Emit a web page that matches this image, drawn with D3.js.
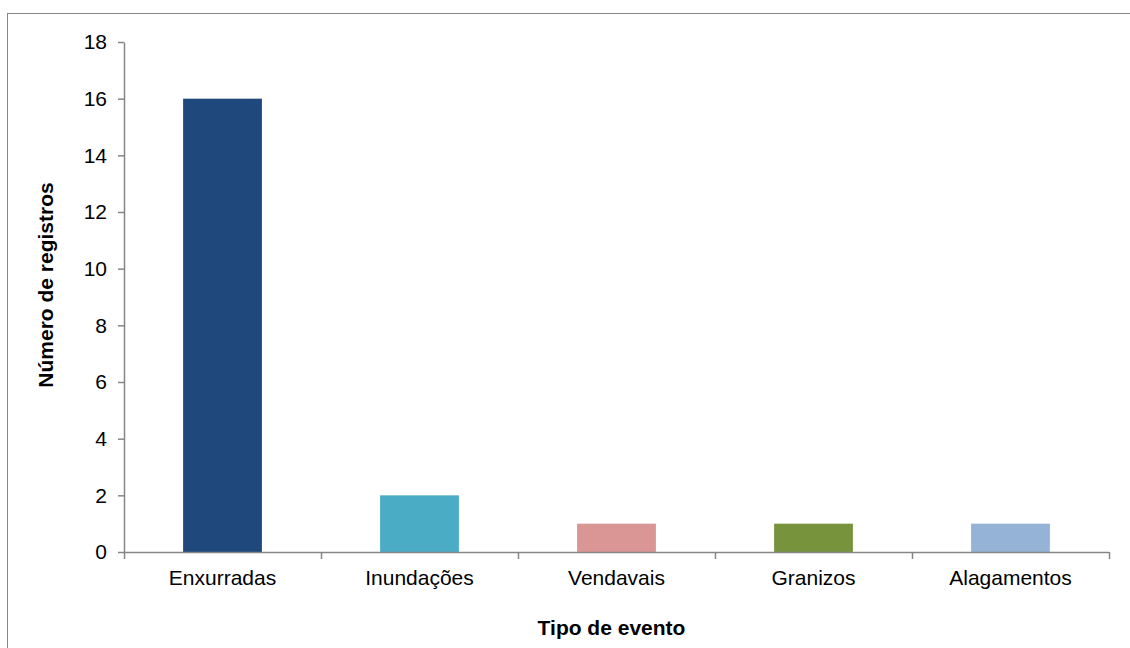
<!DOCTYPE html>
<html>
<head>
<meta charset="utf-8">
<script src="https://cdn.jsdelivr.net/npm/d3@7"></script>
<style>
  html, body { margin: 0; padding: 0; background: #fff; }
  svg { display: block; }
</style>
</head>
<body>
<script>
const categories = ['Enxurradas', 'Inundações', 'Vendavais', 'Granizos', 'Alagamentos'];
const values = [16, 2, 1, 1, 1];
const barColors = ['#1F497D', '#4BACC6', '#D99694', '#77933C', '#95B3D7'];
const yTicks = [0, 2, 4, 6, 8, 10, 12, 14, 16, 18];

const width = 1130;
const height = 648;
const margin = { top: 42, right: 21, bottom: 96, left: 124 };
const font = 'Arial, "Liberation Sans", sans-serif';
const axisColor = '#868686';

const svg = d3.select('body').append('svg')
  .attr('width', width)
  .attr('height', height);

// chart area border (right and bottom run off the picture)
svg.append('rect')
  .attr('x', 7.5).attr('y', 13.5)
  .attr('width', width).attr('height', height)
  .attr('fill', 'none')
  .attr('stroke', axisColor)
  .attr('stroke-width', 1);

const x = d3.scaleBand()
  .domain(categories)
  .range([margin.left, width - margin.right])
  .paddingInner(0.6)
  .paddingOuter(0.3);

const y = d3.scaleLinear()
  .domain([0, 18])
  .range([height - margin.bottom, margin.top]);

// bars
svg.selectAll('.bar')
  .data(categories)
  .enter()
  .append('rect')
  .attr('class', 'bar')
  .attr('x', d => x(d))
  .attr('y', (d, i) => y(values[i]))
  .attr('width', x.bandwidth())
  .attr('height', (d, i) => y(0) - y(values[i]))
  .attr('fill', (d, i) => barColors[i]);

// y axis
const yAxis = svg.append('g')
  .attr('transform', `translate(${margin.left},0)`)
  .call(d3.axisLeft(y).tickValues(yTicks).tickSize(6).tickPadding(11).tickSizeOuter(0));

yAxis.select('.domain').attr('stroke', axisColor).attr('stroke-width', 1.5);
yAxis.selectAll('.tick line').attr('stroke', axisColor).attr('stroke-width', 1.5);
yAxis.selectAll('.tick text')
  .attr('font-family', font)
  .attr('font-size', '21px')
  .attr('fill', '#000');

// x axis: ticks sit on the category boundaries
const x0 = margin.left;
const x1 = width - margin.right;
const boundary = i => Math.round(x0 + i * (x1 - x0) / categories.length) + 0.5;

const xAxisG = svg.append('g');
xAxisG.append('line')
  .attr('x1', x0).attr('x2', x1)
  .attr('y1', y(0) + 0.5).attr('y2', y(0) + 0.5)
  .attr('stroke', axisColor).attr('stroke-width', 1.5);
xAxisG.selectAll('.xt')
  .data(d3.range(categories.length + 1))
  .enter()
  .append('line')
  .attr('x1', boundary)
  .attr('x2', boundary)
  .attr('y1', y(0)).attr('y2', y(0) + 7)
  .attr('stroke', axisColor).attr('stroke-width', 1.5);
xAxisG.selectAll('.xl')
  .data(categories)
  .enter()
  .append('text')
  .attr('x', d => x(d) + x.bandwidth() / 2)
  .attr('y', 585)
  .attr('text-anchor', 'middle')
  .attr('font-family', font)
  .attr('font-size', '21px')
  .attr('fill', '#000')
  .text(d => d);

// axis titles
svg.append('text')
  .attr('x', (x0 + x1) / 2 - 5)
  .attr('y', 635)
  .attr('text-anchor', 'middle')
  .attr('font-family', font)
  .attr('font-size', '21px')
  .attr('font-weight', 'bold')
  .attr('fill', '#000')
  .text('Tipo de evento');

svg.append('text')
  .attr('transform', 'translate(53,285) rotate(-90)')
  .attr('text-anchor', 'middle')
  .attr('font-family', font)
  .attr('font-size', '21px')
  .attr('font-weight', 'bold')
  .attr('fill', '#000')
  .text('Número de registros');
</script>
</body>
</html>
